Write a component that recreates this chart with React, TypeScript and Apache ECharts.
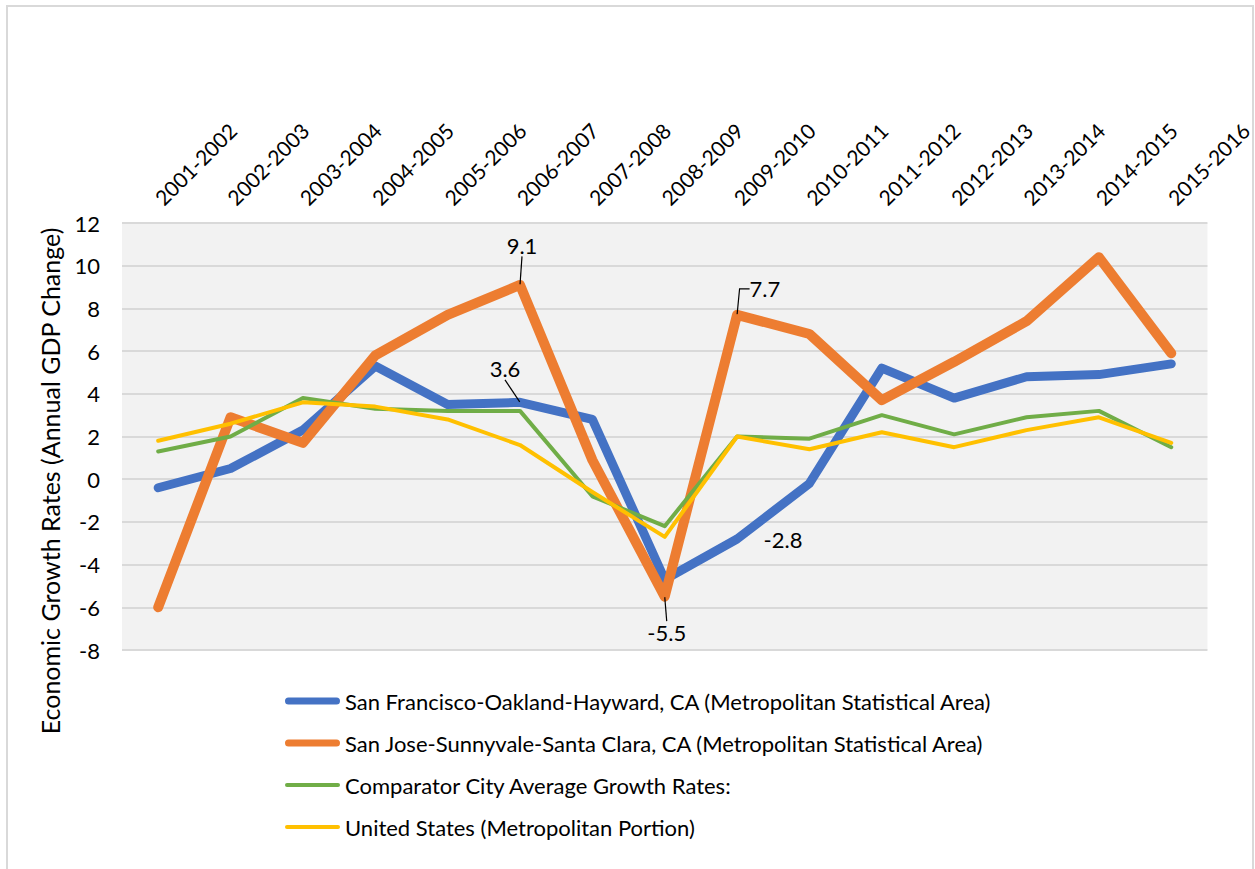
import React, { useEffect, useRef } from 'react';
import * as echarts from 'echarts';

const categories = [
  '2001-2002', '2002-2003', '2003-2004', '2004-2005', '2005-2006', '2006-2007', '2007-2008', '2008-2009',
  '2009-2010', '2010-2011', '2011-2012', '2012-2013', '2013-2014', '2014-2015', '2015-2016',
];
const sanFrancisco = [-0.4, 0.5, 2.3, 5.3, 3.5, 3.6, 2.8, -4.7, -2.8, -0.2, 5.2, 3.8, 4.8, 4.9, 5.4];
const sanJose = [-6.0, 2.9, 1.7, 5.8, 7.7, 9.1, 0.9, -5.5, 7.7, 6.8, 3.7, 5.5, 7.4, 10.4, 5.9];
const comparator = [1.3, 2.0, 3.8, 3.3, 3.2, 3.2, -0.8, -2.2, 2.0, 1.9, 3.0, 2.1, 2.9, 3.2, 1.5];
const unitedStates = [1.8, 2.6, 3.6, 3.4, 2.8, 1.6, -0.6, -2.7, 2.0, 1.4, 2.2, 1.5, 2.3, 2.9, 1.7];

const seriesNames = [
  'San Francisco-Oakland-Hayward, CA (Metropolitan Statistical Area)',
  'San Jose-Sunnyvale-Santa Clara, CA (Metropolitan Statistical Area)',
  'Comparator City Average Growth Rates:',
  'United States (Metropolitan Portion)',
];
const yMin = -8;
const yMax = 12;
const yInterval = 2;
const yAxisTitle = 'Economic Growth Rates (Annual GDP Change)';

// labelled points: series index, data index
const labelledPoints = [
  { s: 0, i: 5 },
  { s: 0, i: 8 },
  { s: 1, i: 5 },
  { s: 1, i: 7 },
  { s: 1, i: 8 },
];

const FONT = 'Lato';
const colors = ['#4472C4', '#ED7D31', '#70AD47', '#FFC000'];
const widths = [9, 10, 4, 4];

// legend icons: rounded bars of different thickness
const barIcon = (h: number) => {
  const r = h / 2;
  return `path://M${r} 0H${55 - r}A${r} ${r} 0 0 1 ${55 - r} ${h}H${r}A${r} ${r} 0 0 1 ${r} 0Z`;
};
const legendThickness = [7, 7, 4, 4];

// label placement styles keyed by "s-i"
const labelStyles: Record<string, any> = {
  '0-5': { position: 'top', distance: 0, dx: -15, dy: -22, line: true, length2: 0 },
  '0-8': { position: 'right', distance: 26, dx: 0, dy: 1, line: false, length2: 0 },
  '1-5': { position: 'top', distance: 0, dx: 2, dy: -28, line: true, length2: 0 },
  '1-7': { position: 'bottom', distance: 0, dx: 2, dy: 24, line: true, length2: 0 },
  '1-8': { position: 'right', distance: 0, dx: 12, dy: -26, line: true, length2: 10 },
};

export default function App() {
  const ref = useRef<HTMLDivElement>(null);
  useEffect(() => {
    document.body.style.margin = '0';
    if (!ref.current) return;
    const chart = echarts.init(ref.current, undefined, { renderer: 'svg' });
    const allData = [sanFrancisco, sanJose, comparator, unitedStates];

    const series = allData.map((vals, s) => ({
      name: seriesNames[s],
      type: 'line',
      symbol: 'none',
      lineStyle: { color: colors[s], width: widths[s], cap: 'round', join: 'round' },
      itemStyle: { color: colors[s] },
      z: 2 + s,
      data: vals.map((v, i) => {
        const key = `${s}-${i}`;
        const ls = labelStyles[key];
        if (!labelledPoints.some((p) => p.s === s && p.i === i) || !ls) return v;
        return {
          value: v,
          symbol: 'circle',
          symbolSize: 1,
          label: {
            show: true,
            position: ls.position,
            distance: ls.distance,
            formatter: '{c}',
            fontSize: 22,
            fontFamily: FONT,
            color: '#000',
          },
          labelLine: {
            show: ls.line,
            length2: ls.length2,
            lineStyle: { color: '#000', width: 1.2 },
          },
        };
      }),
      labelLayout: (params: any) => {
        const ls = labelStyles[`${s}-${params.dataIndex}`];
        if (!ls) return {};
        return { dx: ls.dx, dy: ls.dy };
      },
    }));

    chart.setOption({
      animation: false,
      textStyle: { fontFamily: FONT },
      grid: {
        left: 122,
        right: 41,
        top: 223,
        bottom: 219,
        show: true,
        backgroundColor: '#F2F2F2',
        borderWidth: 0,
        containLabel: false,
      },
      xAxis: {
        type: 'category',
        position: 'top',
        data: categories,
        boundaryGap: true,
        axisLine: { show: false },
        axisTick: { show: false },
        axisLabel: {
          rotate: 45,
          interval: 0,
          margin: 22,
          fontSize: 21,
          fontFamily: FONT,
          color: '#000',
        },
      },
      yAxis: {
        type: 'value',
        min: yMin,
        max: yMax,
        interval: yInterval,
        axisLine: { show: false },
        axisTick: { show: false },
        splitLine: { lineStyle: { color: '#D9D9D9', width: 2 } },
        axisLabel: { fontSize: 22, fontFamily: FONT, color: '#000', margin: 22 },
      },
      legend: {
        orient: 'vertical',
        left: 285,
        top: 689,
        padding: 0,
        itemWidth: 55,
        itemHeight: 24,
        itemGap: 18,
        symbolKeepAspect: true,
        selectedMode: false,
        textStyle: { fontSize: 22, lineHeight: 24, fontFamily: FONT, color: '#000' },
        data: seriesNames.map((n, s) => ({
          name: n,
          icon: barIcon(legendThickness[s]),
          itemStyle: { color: colors[s] },
        })),
      },
      graphic: [
        {
          type: 'rect',
          z: -10,
          silent: true,
          shape: { x: 7, y: 6, width: 1246, height: 900 },
          style: { fill: 'none', stroke: '#D9D9D9', lineWidth: 2 },
        },
        {
          type: 'text',
          x: 50,
          y: 481,
          rotation: Math.PI / 2,
          style: {
            text: yAxisTitle,
            fontSize: 25,
            fontFamily: FONT,
            fill: '#000',
            align: 'center',
            verticalAlign: 'middle',
          },
        },
      ],
      series,
    });
    return () => chart.dispose();
  }, []);
  return <div ref={ref} style={{ width: 1255, height: 869 }} />;
}
